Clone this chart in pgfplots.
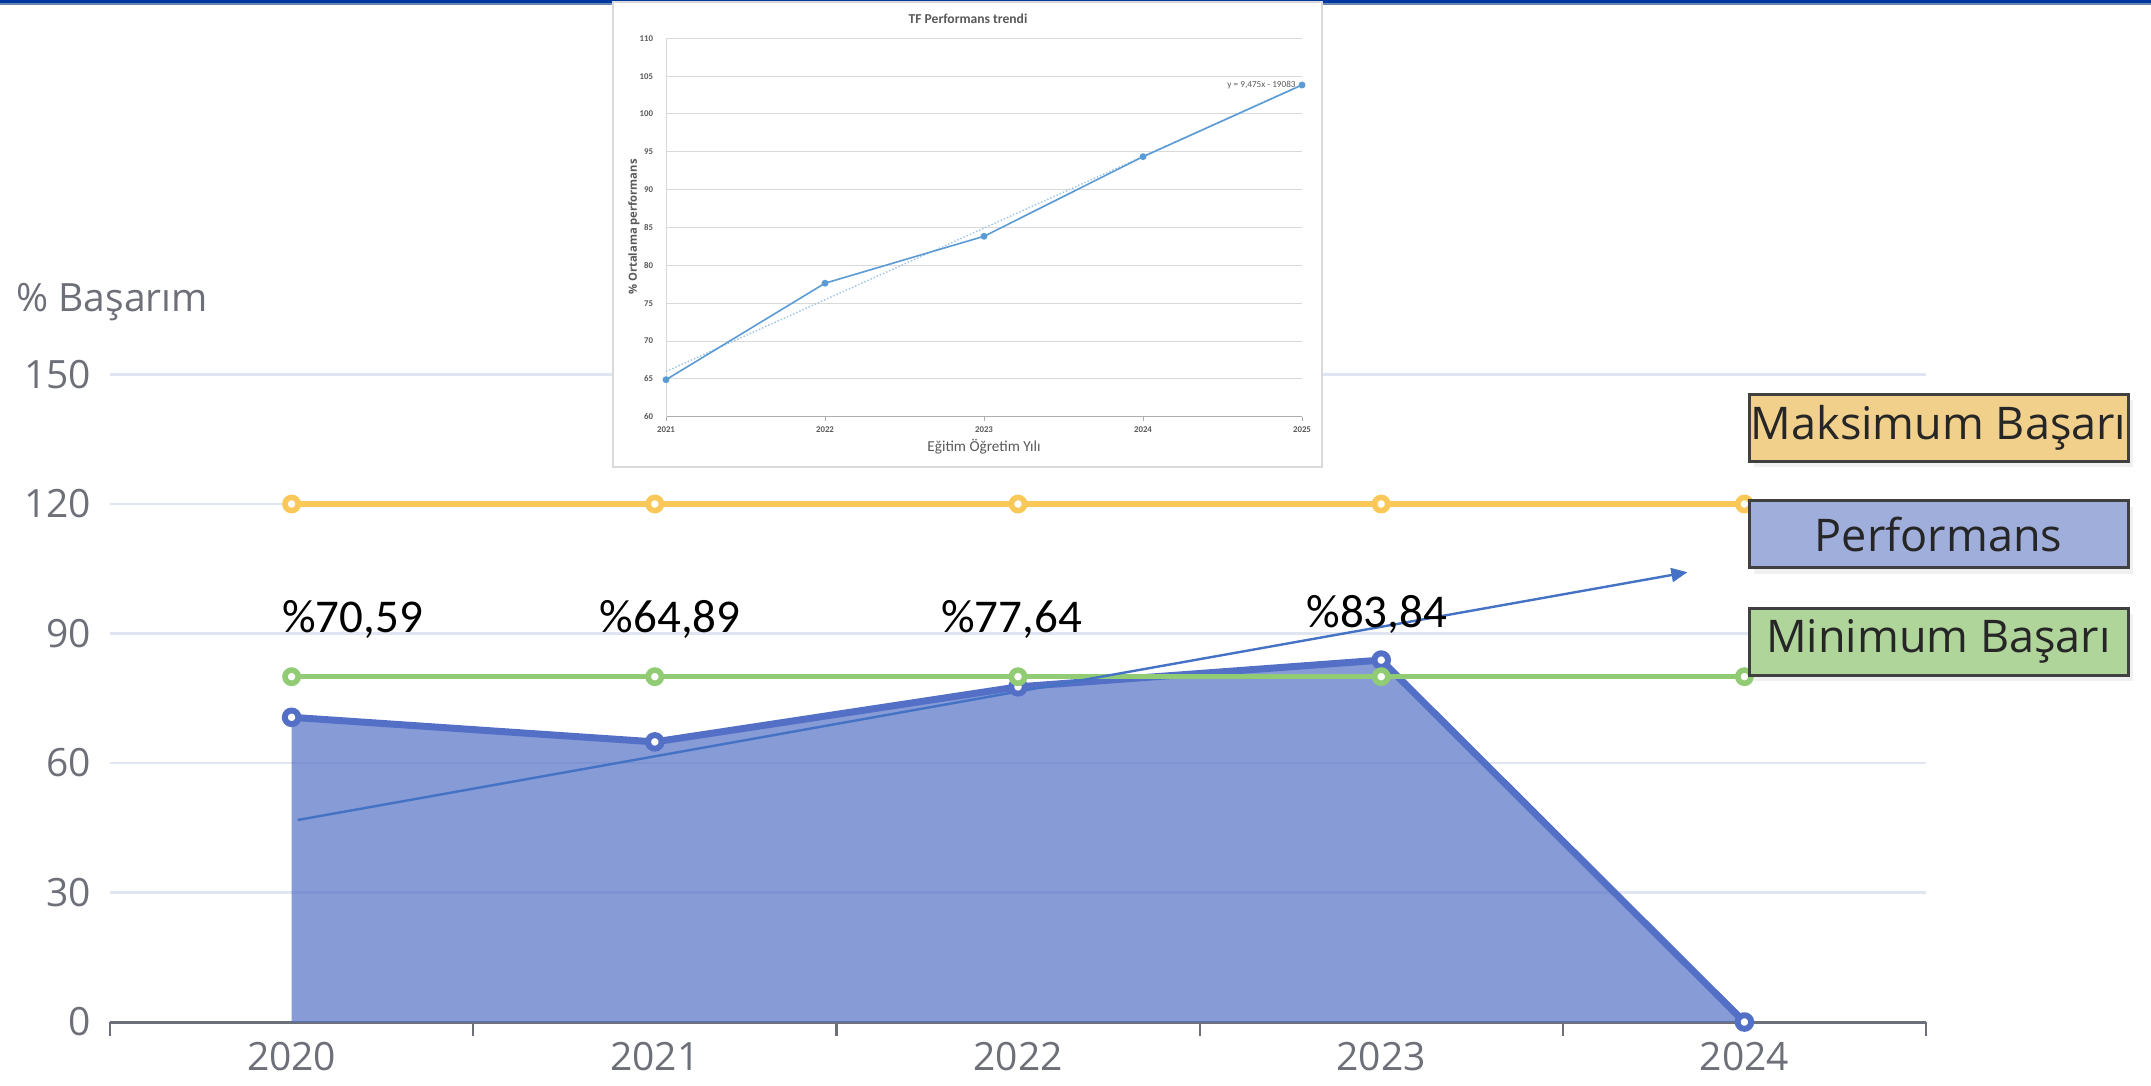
\documentclass[border=0pt]{standalone}
\usepackage{pgfplots}
\pgfplotsset{compat=1.18}
\usepackage{fontspec}
\setmainfont{Open Sans}
\newfontfamily\carlito{Carlito}
\usetikzlibrary{arrows.meta,shadows}
\definecolor{cPerf}{HTML}{5470C6}
\definecolor{cMax}{HTML}{FAC858}
\definecolor{cMin}{HTML}{91CC75}
\definecolor{cGrid}{HTML}{E0E6F1}
\definecolor{cAxis}{HTML}{6E7079}
\definecolor{cArrow}{HTML}{4472C4}
\definecolor{cBar}{HTML}{0038A0}
\definecolor{cBarB}{HTML}{6A86B0}
\definecolor{cMaxFill}{HTML}{F1D08C}
\definecolor{cPerfFill}{HTML}{A0AEDB}
\definecolor{cMinFill}{HTML}{B0D59B}
\definecolor{cBox}{HTML}{404040}
\definecolor{cXl}{HTML}{5B9BD5}
\definecolor{cTrend}{HTML}{9DC3E6}
\definecolor{cXg}{HTML}{D9D9D9}
\definecolor{cXt}{HTML}{595959}
\begin{document}
\begin{tikzpicture}
\path[use as bounding box] (0,0) rectangle (1075.5pt,-543pt);
\fill[cBar] (0,0) rectangle (1075.5pt,-1.7pt);
\fill[cBarB] (0,-1.7pt) rectangle (1075.5pt,-2.5pt);
% main chart
\begin{axis}[
  at={(55pt,-511pt)}, anchor=south west,
  scale only axis, width=908pt, height=323.75pt,
  xmin=-0.5, xmax=4.5, ymin=0, ymax=150,
  clip=false,
  axis x line*=bottom, axis y line*=left,
  x axis line style={draw=cAxis, line width=1.5pt, -},
  y axis line style={draw=none},
  xtick={0,1,2,3,4},
  xticklabels={2020,2021,2022,2023,2024},
  minor xtick={-0.5,0.5,1.5,2.5,3.5,4.5},
  major tick length=0pt, minor tick length=7pt, tick align=outside,
  xtick style={draw=cAxis, line width=1.1pt},
  ytick={0,30,60,90,120,150},
  ytick style={draw=none},
  ymajorgrids, grid style={draw=cGrid, line width=1.3pt},
  /pgf/number format/assume math mode=true,
  ticklabel style={font=\fontsize{19.5}{19.5}\selectfont, text=cAxis},
  xticklabel style={anchor=north, yshift=-6.5pt},
  yticklabel style={anchor=east, xshift=-6pt},
]
\addplot[draw=none, fill=cPerf, fill opacity=0.7, forget plot]
  coordinates {(0,70.59) (1,64.89) (2,77.64) (3,83.84) (4,0)} \closedcycle;
\addplot[cPerf, line width=3.5pt, line join=round, mark=*, mark size=3.4pt,
  mark options={fill=white, draw=cPerf, line width=3pt}]
  coordinates {(0,70.59) (1,64.89) (2,77.64) (3,83.84) (4,0)};
\addplot[cMax, line width=2.6pt, mark=*, mark size=3.3pt,
  mark options={fill=white, draw=cMax, line width=2.8pt}]
  coordinates {(0,120) (1,120) (2,120) (3,120) (4,120)};
\addplot[cMin, line width=2.6pt, mark=*, mark size=3.3pt,
  mark options={fill=white, draw=cMin, line width=2.8pt}]
  coordinates {(0,80) (1,80) (2,80) (3,80) (4,80)};
\draw[cArrow, line width=1.2pt, -{Triangle[length=8pt,width=7pt]}]
  (axis cs:0.017,46.8) -- (axis cs:3.843,104.2);
\node[anchor=base, font=\carlito\fontsize{23.5}{24}\selectfont] at (axis cs:0.168,90.3) {\%70,59};
\node[anchor=base, font=\carlito\fontsize{23.5}{24}\selectfont] at (axis cs:1.042,90.3) {\%64,89};
\node[anchor=base, font=\carlito\fontsize{23.5}{24}\selectfont] at (axis cs:1.982,90.3) {\%77,64};
\node[anchor=base, font=\carlito\fontsize{23.5}{24}\selectfont] at (axis cs:2.988,91.4) {\%83,84};
\end{axis}
\node[anchor=west, inner sep=0, text=cAxis, font=\fontsize{19.5}{19.5}\selectfont] at (8pt,-151pt) {\% Başarım};
% legend boxes
\foreach \yy/\ff/\tt in {-213.75pt/cMaxFill/Maksimum Başarı, -267pt/cPerfFill/Performans, -320.75pt/cMinFill/Minimum Başarı}{
  \node[draw=cBox, line width=1.5pt, fill=\ff, minimum width=189.5pt, minimum height=33.5pt,
    inner sep=0pt, text=black!85, font=\fontsize{22.5}{23}\selectfont,
    drop shadow={shadow xshift=2.5pt, shadow yshift=-3pt, opacity=0.12}]
    at (969.25pt,\yy) {\tt};
}
% inset picture
\draw[cXg, line width=0.6pt, fill=white] (306.5pt,-1pt) rectangle (661pt,-233.5pt);
\begin{axis}[
  at={(333pt,-208.35pt)}, anchor=south west,
  scale only axis, width=318pt, height=189.2pt,
  xmin=2021, xmax=2025, ymin=60, ymax=110,
  clip=false,
  axis x line*=bottom, axis y line*=left,
  x axis line style={draw=cXg!80!black, line width=0.5pt, -},
  y axis line style={draw=cXg, line width=0.5pt, -},
  xtick={2021,2022,2023,2024,2025},
  ytick={60,65,70,75,80,85,90,95,100,105,110},
  xtick style={draw=cXg!80!black, line width=0.4pt},
  ytick style={draw=none},
  major tick length=2pt, tick align=outside,
  ymajorgrids, grid style={draw=cXg, line width=0.5pt},
  /pgf/number format/assume math mode=true,
  /pgf/number format/1000 sep={},
  ticklabel style={font=\carlito\bfseries\fontsize{4.4}{5}\selectfont, text=cXt},
  xticklabel style={yshift=0.5pt},
  yticklabel style={xshift=-1pt},
]
\addplot[cTrend, line width=0.7pt, densely dotted] coordinates {(2021,65.975) (2025,103.875)};
\addplot[cXl, line width=0.8pt, mark=*, mark size=1.3pt, mark options={fill=cXl, draw=cXl}]
  coordinates {(2021,64.89) (2022,77.64) (2023,83.84) (2024,94.36) (2025,103.83)};
\node[anchor=east, text=cXt, font=\carlito\fontsize{4.6}{5}\selectfont, inner sep=0pt] at (axis cs:2025,103.83) [xshift=-3pt] {y = 9,475x - 19083};
\end{axis}
\node[text=cXt, font=\carlito\bfseries\fontsize{6.8}{7}\selectfont] at (484pt,-9.5pt) {TF Performans trendi};
\node[text=cXt, font=\carlito\fontsize{7.6}{8}\selectfont] at (492pt,-223.5pt) {Eğitim Öğretim Yılı};
\node[rotate=90, text=cXt, font=\bfseries\fontsize{5.6}{6}\selectfont] at (317pt,-113.5pt) {\% Ortalama performans};
\end{tikzpicture}
\end{document}
